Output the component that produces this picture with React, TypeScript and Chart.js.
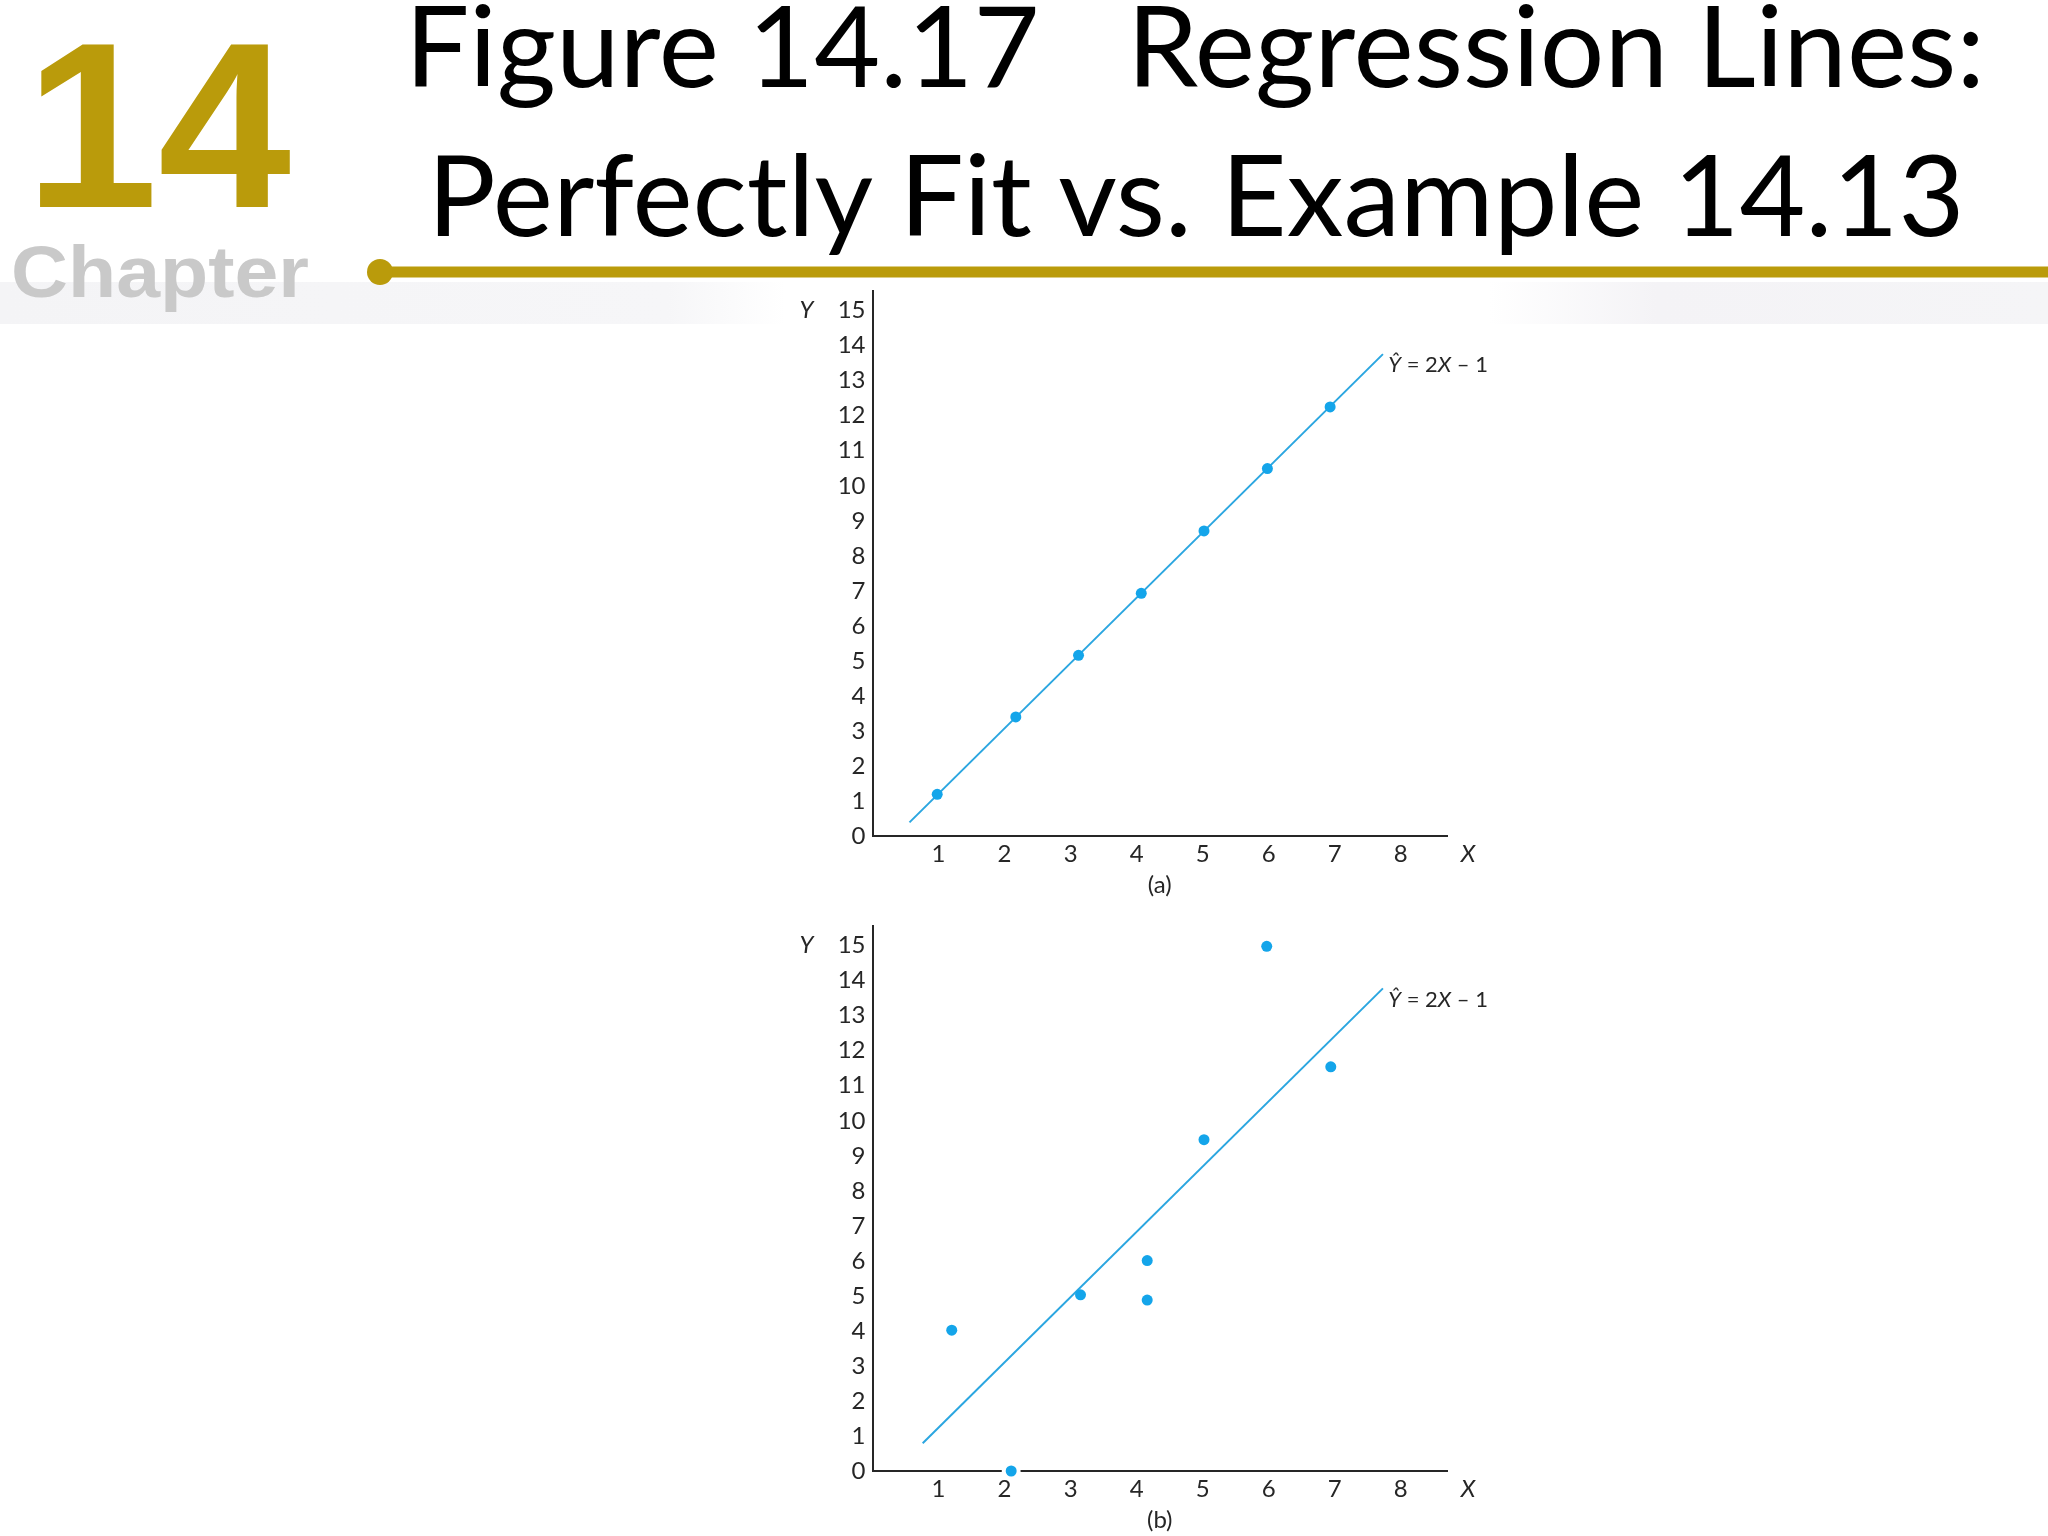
import React, { useEffect, useRef } from 'react';
import { Chart, registerables } from 'chart.js';

Chart.register(...registerables);

// ---- data ----
const xTicks = [1, 2, 3, 4, 5, 6, 7, 8];
const yTicks = [0, 1, 2, 3, 4, 5, 6, 7, 8, 9, 10, 11, 12, 13, 14, 15];

// panel (a): perfectly fit data
const fitX = [0.98, 2.17, 3.12, 4.07, 5.02, 5.98, 6.93];
const fitY = [1.19, 3.4, 5.16, 6.93, 8.71, 10.49, 12.25];
const fitLineX = [0.56, 7.73];
const fitLineY = [0.39, 13.76];

// panel (b): Example 14.13 data
const exX = [1.2, 2.1, 3.15, 4.16, 4.16, 5.02, 5.97, 6.94];
const exY = [4.02, 0, 5.03, 6.01, 4.88, 9.46, 14.98, 11.54];
const exLineX = [0.76, 7.73];
const exLineY = [0.79, 13.78];

const equationParts = [
  { text: 'Ŷ', italic: true },
  { text: ' = 2', italic: false },
  { text: 'X', italic: true },
  { text: ' – 1', italic: false },
];
const equationAt = { x: 7.81, y: 13.24 };

const titleLine1 = 'Figure 14.17   Regression Lines:';
const titleLine2 = 'Perfectly Fit vs. Example 14.13';

// ---- styles ----
const GOLD = '#BA9B0B';
const POINT = '#14a5ea';
const LINE = '#2ba6e0';
const INK = '#262626';
const TICK_FONT = 'Lato';

const annotPlugin = {
  id: 'annot',
  afterDraw(chart: any) {
    const { ctx, chartArea, scales } = chart;
    const xs = scales.x;
    const ys = scales.y;
    ctx.save();
    ctx.fillStyle = INK;
    ctx.textBaseline = 'alphabetic';
    ctx.textAlign = 'left';
    // regression equation
    let px = xs.getPixelForValue(equationAt.x);
    const py = ys.getPixelForValue(equationAt.y);
    for (const p of equationParts) {
      ctx.font = `${p.italic ? 'italic ' : ''}22px ${TICK_FONT}`;
      ctx.fillText(p.text, px, py);
      px += ctx.measureText(p.text).width;
    }
    // axis letters
    ctx.font = `italic 24px ${TICK_FONT}`;
    ctx.textBaseline = 'middle';
    ctx.textAlign = 'center';
    ctx.fillText('X', chartArea.right + 21, xs.top + 18.6);
    ctx.fillText('Y', chartArea.left - 66, ys.getPixelForValue(15));
    ctx.restore();
  },
};

function makeConfig(px: number[], py: number[], lx: number[], ly: number[], label: string): any {
  const tickFont = { family: TICK_FONT, size: 24 };
  const onAxis = (c: any) => c.raw && c.raw.y === 0;
  return {
    type: 'scatter',
    data: {
      datasets: [
        {
          data: px.map((x, i) => ({ x, y: py[i] })),
          // a point sitting on the axis gets a small white halo that breaks the axis line
          pointRadius: (c: any) => (onAxis(c) ? 7.5 : 5.5),
          pointHoverRadius: (c: any) => (onAxis(c) ? 7.5 : 5.5),
          backgroundColor: POINT,
          borderColor: '#ffffff',
          borderWidth: (c: any) => (onAxis(c) ? 4 : 0),
          clip: false,
        },
        {
          data: lx.map((x, i) => ({ x, y: ly[i] })),
          showLine: true,
          pointRadius: 0,
          borderColor: LINE,
          borderWidth: 2,
          clip: false,
        },
      ],
    },
    options: {
      animation: false,
      responsive: false,
      events: [],
      layout: { padding: { top: 20, right: 73, left: 0, bottom: 0 } },
      plugins: { legend: { display: false }, tooltip: { enabled: false } },
      scales: {
        x: {
          type: 'linear',
          min: 0,
          max: 8.7,
          afterBuildTicks: (s: any) => {
            s.ticks = xTicks.map((v) => ({ value: v }));
          },
          afterFit: (s: any) => {
            s.height = 64;
          },
          grid: { display: false, drawTicks: false },
          border: { display: true, color: INK, width: 2 },
          ticks: { padding: 4, color: INK, font: tickFont, maxRotation: 0, autoSkip: false },
          title: { display: true, text: label, color: INK, font: tickFont, padding: { top: 0, bottom: 0 } },
        },
        y: {
          type: 'linear',
          min: 0,
          max: 15.55,
          afterBuildTicks: (s: any) => {
            s.ticks = yTicks.map((v) => ({ value: v }));
          },
          afterFit: (s: any) => {
            s.width = 112.5;
          },
          grid: { display: false, drawTicks: false },
          border: { display: true, color: INK, width: 2 },
          ticks: { padding: 7, color: INK, font: tickFont, autoSkip: false },
        },
      },
    },
    plugins: [annotPlugin],
  };
}

function Panel(props: { top: number; px: number[]; py: number[]; lx: number[]; ly: number[]; label: string }) {
  const ref = useRef<HTMLCanvasElement>(null);
  useEffect(() => {
    if (!ref.current) return;
    const chart = new Chart(ref.current, makeConfig(props.px, props.py, props.lx, props.ly, props.label));
    return () => chart.destroy();
  }, []);
  return (
    <canvas
      ref={ref}
      width={760}
      height={630}
      style={{ position: 'absolute', left: 760, top: props.top, width: 760, height: 630 }}
    />
  );
}

export default function App() {
  return (
    <div
      style={{
        position: 'absolute',
        left: 0,
        top: 0,
        width: 2048,
        height: 1536,
        overflow: 'hidden',
        background: '#ffffff',
      }}
    >
      <svg width={2048} height={340} style={{ position: 'absolute', left: 0, top: 0 }}>
        <defs>
          <linearGradient id="bandL" x1="0" x2="1" y1="0" y2="0">
            <stop offset="0" stopColor="#f4f4f6" />
            <stop offset="0.85" stopColor="#f6f6f8" />
            <stop offset="1" stopColor="#ffffff" />
          </linearGradient>
          <linearGradient id="bandR" x1="0" x2="1" y1="0" y2="0">
            <stop offset="0" stopColor="#ffffff" />
            <stop offset="0.3" stopColor="#f4f3f6" />
            <stop offset="1" stopColor="#f5f5f7" />
          </linearGradient>
        </defs>
        <rect x={0} y={282} width={785} height={42} fill="url(#bandL)" />
        <rect x={1489} y={282} width={559} height={42} fill="url(#bandR)" />
        <text
          x={25}
          y={207}
          fontFamily="'Liberation Sans', Arial, sans-serif"
          fontWeight="bold"
          fontSize={236}
          fill={GOLD}
          textLength={266}
          lengthAdjust="spacingAndGlyphs"
        >
          14
        </text>
        <text
          x={11}
          y={297}
          fontFamily="'Liberation Sans', Arial, sans-serif"
          fontWeight="bold"
          fontSize={73}
          fill="#c9c9c9"
          textLength={298}
          lengthAdjust="spacingAndGlyphs"
        >
          Chapter
        </text>
        <text
          x={1195}
          y={87}
          textAnchor="middle"
          fontFamily="Lato, sans-serif"
          fontSize={113}
          fill="#000000"
          textLength={1580}
          lengthAdjust="spacingAndGlyphs"
          style={{ whiteSpace: 'pre' }}
        >
          {titleLine1}
        </text>
        <text
          x={1196}
          y={236}
          textAnchor="middle"
          fontFamily="Lato, sans-serif"
          fontSize={113}
          fill="#000000"
          textLength={1537}
          lengthAdjust="spacingAndGlyphs"
        >
          {titleLine2}
        </text>
        <rect x={380} y={266.5} width={1668} height={11} fill={GOLD} />
        <circle cx={380} cy={272} r={13} fill={GOLD} />
      </svg>
      <Panel top={270} px={fitX} py={fitY} lx={fitLineX} ly={fitLineY} label="(a)" />
      <Panel top={905} px={exX} py={exY} lx={exLineX} ly={exLineY} label="(b)" />
    </div>
  );
}
